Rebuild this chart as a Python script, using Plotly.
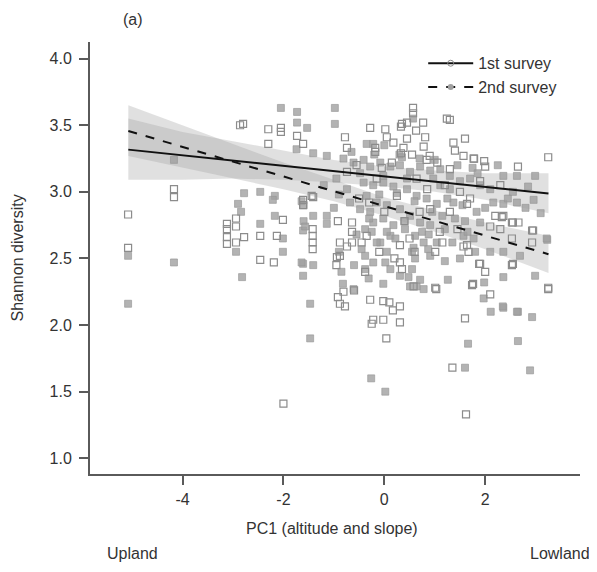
import plotly.graph_objects as go

# ---- data ----
# 1st survey (open squares)
x1 = [-2.86,-2.80,-2.30,-2.05,-2.05,-1.73,-2.30,-1.61,
      -4.17,-4.17,-5.08,-5.08,
      -3.12,-3.12,-2.94,-2.94,-3.12,-3.12,-2.94,-2.78,-2.46,-2.13,-2.01,-2.46,-2.19,
      -1.61,-1.61,-1.41,-1.42,-1.42,-1.42,-1.42,-0.94,
      0.04,1.35,-2.0,1.62,
      0.57,0.57,0.77,1.30,-0.28,0.02,0.05,0.35,0.45,0.63,0.33,1.60,1.37,1.78,1.98,2.65,3.25,
      0.18,0.45,0.81,0.78,0.38,0.33,-0.78,-0.74,-0.18,0.55,0.90,0.84,-0.18,1.24,
      1.64,2.36,2.55,2.93,1.88,2.55,2.00,3.25,1.60,1.03,
      -0.22,-0.02,0.31,-0.88,-0.78,-0.92,-0.28,-0.02,0.10,0.17,0.31,-0.38,-0.60,-0.88,-0.64,-0.88,-0.64,1.76,1.64,
      -0.64,-0.74,0.31,0.35,1.01,-0.81,-0.25,0.58,
      -0.74,-0.15,0.64,0.25,0.91,-0.35,0.31,1.01,
      1.57,1.77,2.00,1.40,2.20,2.33,2.53,2.66,2.10,2.30,2.95,2.53,2.93,1.57,1.67,1.90,2.53,1.74,2.10,3.25,
      -0.92,-0.95,-1.44,
      1.20,1.50,1.30,1.70,0.00,-0.50,0.70,1.10,0.50,-0.10,1.30,1.90,2.30,
      -0.55,-0.30,0.15,0.40,0.85,1.15,1.45,-0.05,0.60,1.05,0.20,-0.45]
y1 = [3.50,3.51,3.47,3.48,3.45,3.42,3.36,3.36,
      3.02,2.96,2.83,2.58,
      2.76,2.72,2.80,2.74,2.66,2.61,2.62,2.66,2.67,2.67,2.79,2.49,2.47,
      2.94,2.90,2.96,2.72,2.67,2.62,2.57,2.51,
      1.90,1.68,1.41,1.33,
      3.63,3.59,3.52,3.54,3.48,3.47,3.41,3.51,3.52,3.46,3.49,3.40,3.37,3.25,3.23,3.19,3.26,
      3.37,3.40,3.41,3.34,3.33,3.29,3.41,3.33,3.33,3.28,3.27,3.24,3.30,3.55,
      2.91,2.82,2.77,2.71,2.46,2.46,2.40,2.27,2.05,2.27,
      2.04,2.04,2.02,2.16,2.14,2.21,2.19,2.18,2.17,2.11,2.14,2.40,2.26,2.62,2.62,2.52,2.77,2.31,2.60,
      2.70,2.59,2.47,2.42,2.28,2.25,2.01,2.29,
      3.15,3.10,3.10,2.97,2.87,2.67,2.60,2.55,
      3.27,3.25,3.19,3.31,2.82,2.81,2.77,2.77,2.74,2.72,2.71,2.65,2.62,2.59,2.55,2.46,2.45,2.30,2.23,2.28,
      2.78,2.45,2.97,
      3.05,3.00,2.85,2.95,2.85,2.95,2.85,2.70,2.65,2.55,3.17,3.08,3.05,
      3.20,2.92,3.22,2.78,3.02,2.62,2.72,3.18,2.55,3.22,2.50,2.62]

# 2nd survey (filled squares)
x2 = [-2.05,-1.73,-1.73,-1.53,-0.98,-0.98,-4.17,
      -2.78,-2.46,-2.17,-2.21,-2.90,-2.84,-2.17,-2.46,-2.01,-2.01,-2.94,-2.82,-4.17,-5.08,-5.08,
      -1.61,-1.60,-1.41,-1.14,-1.14,-1.61,-1.41,-1.61,-1.47,-1.47,
      1.66,2.65,1.60,2.89,-0.26,0.02,
      0.57,2.99,3.23,2.36,2.65,2.93,2.36,2.11,-0.02,-0.82,1.26,1.98,
      -1.64,-1.60,-1.57,-1.64,-1.41,-1.14,-1.74,
      -0.35,-0.22,0.00,
      -0.38,-0.25,-0.45,-0.38,-0.22,-0.08,0.05,0.02,0.12,0.55,0.61,0.55,0.87,0.91,0.31,0.48,0.71,0.78,0.64,0.51,-0.38,-0.31,-0.61,
      -0.41,-0.22,-0.02,0.18,0.45,0.64,0.84,1.04,-0.35,-0.15,0.05,0.31,0.51,0.71,0.91,-0.48,-0.28,-0.02,0.18,0.41,0.61,0.78,1.04,0.12,-0.22,1.11,-0.74,-0.68,
      -0.81,-0.61,-0.41,-0.28,-0.08,0.12,0.31,0.51,0.71,0.91,1.11,-0.48,-0.02,0.45,0.97,
      2.36,2.63,2.99,2.16,2.36,2.63,2.96,3.22,2.36,2.69,1.97,2.35,2.63,1.57,1.77,1.83,1.90,1.37,
      -0.95,-0.90,-0.90,-0.85,
      1.30,1.50,1.70,1.90,2.10,1.40,1.60,1.20,1.50,1.20,1.80,2.10,1.45,1.75,-1.20,-1.00,-0.60,1.25,1.55,0.30,
      -0.10,0.25,0.60,0.95,-0.30,0.05,0.40,0.75,1.15,-0.55,-0.15,0.22,0.58,0.88,1.35,1.65,2.00,2.45,2.80,3.10,
      -0.65,-0.20,0.35,0.70,1.00,1.30,1.85,2.25,2.55,2.85]
y2 = [3.63,3.60,3.52,3.48,3.63,3.51,3.24,
      2.99,3.00,2.97,2.94,2.91,2.85,2.82,2.76,2.65,2.55,2.55,2.36,2.47,2.52,2.16,
      2.71,2.78,2.82,2.82,2.76,2.46,2.45,2.37,2.16,1.90,
      1.86,1.88,1.68,1.66,1.60,1.50,
      3.55,2.37,2.64,2.36,2.10,2.06,2.13,2.10,2.31,2.31,2.34,2.32,
      2.93,2.90,2.74,2.47,3.29,3.27,3.32,
      3.36,3.36,3.35,
      2.72,2.70,2.57,2.52,2.47,2.62,2.55,2.47,2.42,2.55,2.50,2.42,2.57,2.52,2.37,2.36,2.34,2.27,2.29,2.29,2.42,2.35,2.27,
      3.07,3.05,3.07,3.04,3.02,2.97,2.95,2.91,2.97,2.92,2.90,2.87,2.82,2.77,2.75,2.87,2.85,2.80,2.75,2.72,2.67,2.62,2.62,2.67,2.77,3.05,3.02,2.92,
      3.25,3.22,3.24,3.19,3.22,3.19,3.20,3.15,3.19,3.16,3.17,3.14,3.12,3.10,3.10,
      3.12,3.12,3.12,2.92,2.91,2.92,2.94,2.65,2.55,2.52,2.20,2.14,2.10,2.67,2.65,2.85,2.77,2.92,
      3.10,2.98,2.55,2.40,
      3.12,3.08,3.10,3.05,3.02,2.80,2.78,2.72,2.50,2.48,2.55,2.55,3.20,3.18,3.05,2.88,2.45,2.95,2.90,3.28,
      2.98,2.99,2.93,2.85,2.80,2.70,2.78,2.70,2.82,2.68,2.62,2.65,2.58,2.68,2.62,2.70,2.88,2.95,2.88,2.84,
      3.30,3.28,3.26,3.25,3.24,3.02,3.14,3.20,3.00,3.04]

# fitted lines (end points) and confidence bands
fit_x = [-5.075, 3.255]
fit1_y = [3.317, 2.987]
fit2_y = [3.457, 2.532]
band_x = [-5.075, -4, -3, -2, -1, 0, 1, 2, 3.255]
band1_hi = [3.55, 3.45, 3.38, 3.31, 3.24, 3.19, 3.16, 3.14, 3.14]
band1_lo = [3.09, 3.09, 3.10, 3.09, 3.07, 3.04, 3.00, 2.94, 2.84]
band2_hi = [3.65, 3.50, 3.36, 3.22, 3.09, 2.96, 2.86, 2.77, 2.67]
band2_lo = [3.27, 3.18, 3.10, 3.02, 2.93, 2.82, 2.70, 2.57, 2.39]

xticks = [-4, -2, 0, 2]
yticks = [1.0, 1.5, 2.0, 2.5, 3.0, 3.5, 4.0]

FONT = "Liberation Sans, Arial, sans-serif"
AX = "#5a5a5a"
TXT = "#333333"
FS = 16

fig = go.Figure()

band_fill = "rgba(160,160,160,0.32)"
for hi, lo in [(band1_hi, band1_lo), (band2_hi, band2_lo)]:
    fig.add_trace(go.Scatter(x=band_x + band_x[::-1], y=hi + lo[::-1], fill="toself",
                             fillcolor=band_fill, line=dict(width=0), mode="lines",
                             hoverinfo="skip", showlegend=False))

fig.add_trace(go.Scatter(x=x2, y=y2, mode="markers", showlegend=False,
                         marker=dict(symbol="square", size=7, color="rgba(160,160,160,0.8)",
                                     line=dict(width=0.8, color="rgba(150,150,150,0.8)"))))
fig.add_trace(go.Scatter(x=x1, y=y1, mode="markers", showlegend=False,
                         marker=dict(symbol="square-open", size=7, color="#8c8c8c",
                                     line=dict(width=1.2))))

fig.add_trace(go.Scatter(x=fit_x, y=fit1_y, mode="lines", showlegend=False,
                         line=dict(color="#111111", width=2)))
fig.add_trace(go.Scatter(x=fit_x, y=fit2_y, mode="lines", showlegend=False,
                         line=dict(color="#111111", width=2, dash="dash")))

# legend entries
fig.add_trace(go.Scatter(x=[None], y=[None], mode="lines+markers", name="1st survey",
                         line=dict(color="#111111", width=2),
                         marker=dict(symbol="circle-open", size=6, color="#8a8a8a")))
fig.add_trace(go.Scatter(x=[None], y=[None], mode="lines+markers", name="2nd survey",
                         line=dict(color="#111111", width=2, dash="dash"),
                         marker=dict(symbol="circle", size=6, color="#a0a0a0")))

# page body adds an 8px offset; figure sized/margined to compensate
fig.update_layout(
    width=589, height=564,
    margin=dict(l=82, r=17, t=34, b=98),
    paper_bgcolor="white", plot_bgcolor="white",
    font=dict(family=FONT, size=FS, color=TXT),
    legend=dict(x=0.68, y=0.99, xanchor="left", yanchor="top", bgcolor="rgba(0,0,0,0)",
                font=dict(size=FS, color=TXT), itemwidth=45, tracegroupgap=0),
    showlegend=True,
)
fig.update_xaxes(range=[-5.835, 3.88], showline=True, linecolor=AX, linewidth=2,
                 ticks="outside", ticklen=9, tickwidth=1.5, tickcolor=AX,
                 tickvals=xticks, ticktext=[str(v) for v in xticks],
                 showgrid=False, zeroline=False, ticklabelstandoff=1)
fig.update_yaxes(range=[0.882, 4.125], showline=True, linecolor=AX, linewidth=2,
                 ticks="outside", ticklen=9, tickwidth=1.5, tickcolor=AX,
                 tickvals=yticks, ticktext=[f"{v:.1f}" for v in yticks],
                 showgrid=False, zeroline=False, ticklabelstandoff=4)

fig.add_annotation(text="Shannon diversity", xref="paper", yref="paper", x=-0.15, y=0.5,
                   textangle=-90, showarrow=False, font=dict(size=FS, color=TXT),
                   xanchor="center", yanchor="middle")
fig.add_annotation(text="PC1 (altitude and slope)", xref="paper", yref="paper",
                   x=0.494, y=-0.125, showarrow=False, font=dict(size=FS, color=TXT),
                   xanchor="center", yanchor="middle")
fig.add_annotation(text="Upland", xref="paper", yref="paper", x=0.086, y=-0.183,
                   showarrow=False, font=dict(size=FS, color=TXT), xanchor="center", yanchor="middle")
fig.add_annotation(text="Lowland", xref="paper", yref="paper", x=1.024, y=-0.183,
                   showarrow=False, font=dict(size=FS, color=TXT), xanchor="right", yanchor="middle")
fig.add_annotation(text="(a)", xref="paper", yref="paper", x=0.088, y=1.053,
                   showarrow=False, font=dict(size=FS, color=TXT), xanchor="center", yanchor="middle")

fig.write_html("out.html")
